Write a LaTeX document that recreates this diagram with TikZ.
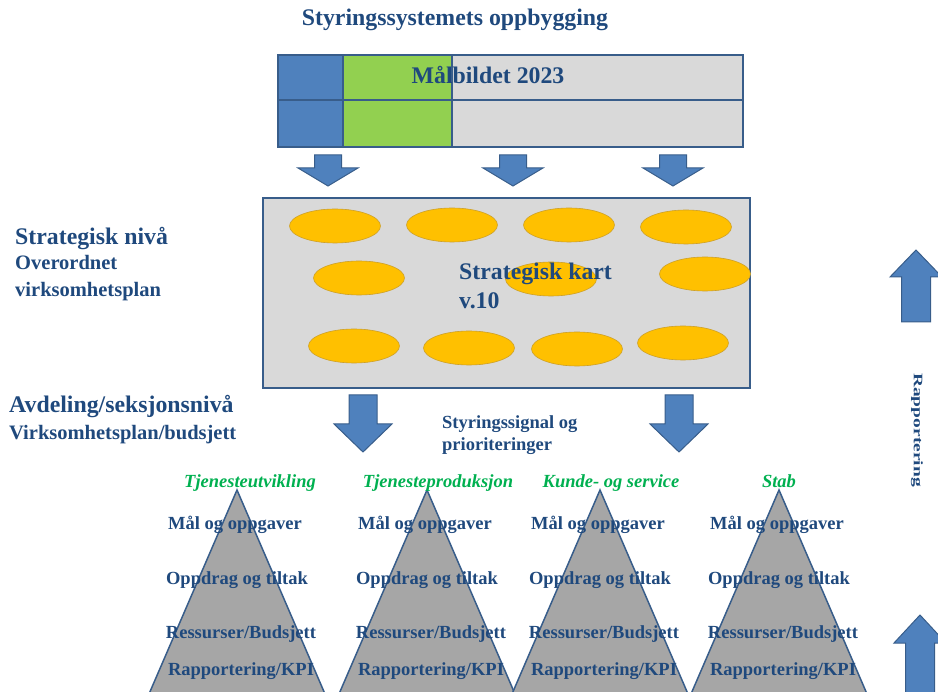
\documentclass[tikz,border=0pt]{standalone}
\usepackage{fontspec}
\setmainfont{Liberation Serif}
\usetikzlibrary{shapes.geometric}
\usepackage{graphicx}
\definecolor{txtblue}{RGB}{31,73,125}
\definecolor{arrblue}{RGB}{79,129,189}
\definecolor{edgeblue}{RGB}{56,93,138}
\definecolor{cellgreen}{RGB}{146,208,80}
\definecolor{cellgray}{RGB}{217,217,217}
\definecolor{oval}{RGB}{255,192,0}
\definecolor{ovaledge}{RGB}{205,160,40}
\definecolor{pyrgray}{RGB}{166,166,166}
\definecolor{titlegreen}{RGB}{0,176,80}
% block arrow: centre x, start y, head y, tip y, half shaft, half head
\newcommand{\blockarrow}[6]{\fill[blockarrow] (#1-#5,#2) -- (#1+#5,#2) -- (#1+#5,#3) -- (#1+#6,#3) -- (#1,#4) -- (#1-#6,#3) -- (#1-#5,#3) -- cycle;}

\begin{document}
\begin{tikzpicture}[x=1pt,y=-1pt,
    ttl/.style={text=txtblue,font=\bfseries\fontsize{23.8}{28}\selectfont,inner sep=0pt},
    sub/.style={ttl,font=\bfseries\fontsize{20.5}{24}\selectfont},
    lbl/.style={ttl,font=\bfseries\fontsize{18.5}{22}\selectfont},
    grp/.style={text=titlegreen,font=\bfseries\itshape\fontsize{18.5}{22}\selectfont,inner sep=0pt},
    blockarrow/.style={fill=arrblue,draw=edgeblue,line width=1pt},
    cell/.style={draw=edgeblue,line width=2pt},
    goal/.style={ellipse,fill=oval,draw=ovaledge,line width=0.6pt,minimum width=91,minimum height=34,inner sep=0pt},
    pyr/.style={fill=pyrgray,draw=edgeblue,line width=1.5pt}]
    \useasboundingbox (0,0) rectangle (938,692);
    \clip (0,0) rectangle (938,692);

    \node[ttl,anchor=base] (title) at (455,26) {Styringssystemets oppbygging};

    % maalbilde
    \draw[cell,fill=arrblue] (278,55) rectangle (343,100);
    \draw[cell,fill=arrblue] (278,100) rectangle (343,147);
    \draw[cell,fill=cellgreen] (343,55) rectangle (452,100);
    \draw[cell,fill=cellgreen] (343,100) rectangle (452,147);
    \draw[cell,fill=cellgray] (452,55) rectangle (743,100);
    \draw[cell,fill=cellgray] (452,100) rectangle (743,147);
    \node[ttl,anchor=base] (maal) at (488,84) {Målbildet 2023};

    \foreach \x in {328,513,673}
    {
        \blockarrow{\x}{155}{168}{186}{13.5}{30}
    }

    % strategisk kart
    \draw[cell,line width=2.5pt,fill=cellgray] (263,198) rectangle (750,388);
    \foreach \cx/\cy [count=\i] in {335/226,452/225,569/225,686/227,359/278,551/279,705/274,354/346,469/348,577/349,683/343}
    {
        \node[goal] (e\i) at (\cx,\cy) {};
    }
    \node[ttl,anchor=base west] (kart) at (459,280) {Strategisk kart};
    \node[ttl,anchor=base west] (kartv) at (459,309) {v.10};

    \node[ttl,anchor=base west] (strat) at (15,245) {Strategisk nivå};
    \node[sub,anchor=base west] (overord) at (15,270) {Overordnet};
    \node[sub,anchor=base west] (virk) at (15,297) {virksomhetsplan};
    \node[ttl,anchor=base west] (avd) at (9,413) {Avdeling/seksjonsnivå};
    \node[sub,anchor=base west] (virkbud) at (9,440) {Virksomhetsplan/budsjett};

    \blockarrow{363}{395}{424}{452}{14}{29}
    \blockarrow{679}{395}{424}{452}{14}{29}
    \node[lbl,anchor=base west] (signal) at (442,429) {Styringssignal og};
    \node[lbl,anchor=base west] (prio) at (442,451) {prioriteringer};

    % rapportering
    \blockarrow{916}{322}{277}{250}{14.5}{26}
    \blockarrow{920}{700}{643}{615}{14.5}{26}
    \node[ttl,rotate=-90,font=\bfseries\fontsize{13}{15}\selectfont] (rapp) at (917,430) {\scalebox{1.5}[1]{Rapportering}};

    % pyramider
    \foreach \x/\tx/\n/\t in {237/250/1/Tjenesteutvikling,427/438/2/Tjenesteproduksjon,600/611/3/{Kunde- og service},779/779/4/Stab}
    {
        \draw[pyr] (\x,490) -- (\x+88,694) -- (\x-88,694) -- cycle;
        \node[grp,anchor=base] (grp\n) at (\tx,488) {\t};
        \node[lbl,anchor=base] (mal\n) at (\x-2,530) {Mål og oppgaver};
        \node[lbl,anchor=base] (opp\n) at (\x,584) {Oppdrag og tiltak};
        \node[lbl,anchor=base] (res\n) at (\x+4,638) {Ressurser/Budsjett};
        \node[lbl,anchor=base] (rap\n) at (\x+4,675) {Rapportering/KPI};
    }
\end{tikzpicture}
\end{document}
